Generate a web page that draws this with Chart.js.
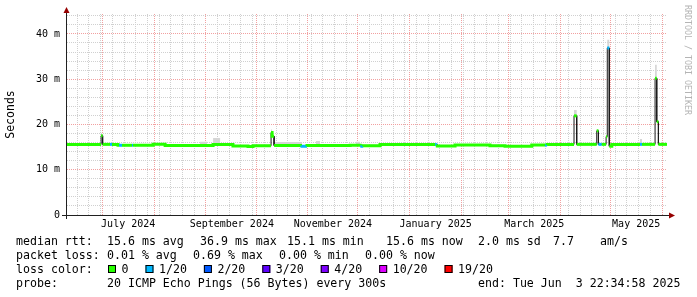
<!DOCTYPE html>
<html>
<head>
<meta charset="utf-8">
<title>smokeping median rtt</title>
<script src="https://cdn.jsdelivr.net/npm/chart.js@4.4.1/dist/chart.umd.min.js"></script>
<style>
  html, body { margin: 0; padding: 0; background: #fff; }
  canvas { display: block; }
</style>
</head>
<body>
<canvas id="smokeChart" width="697" height="297"></canvas>
<script>
// x values are days counted from 1 July 2024 (local time)
var startDay = -21.12;
var endDay = 337.94;   // Tue Jun 3 22:34:58 2025

// each step: start day, median rtt (ms), loss bucket, top of the smoke (ms)
var stepDay = [-21.12, -0.7, 0.2, 4.6, 5.8, 9.4, 10.0, 11.8, 17.8, 18.4,
  30.4, 37.6, 58.5, 62.7, 66.3, 70.5, 78.2, 87.2, 90.2, 101.0,
  101.6, 102.8, 119.5, 122.5, 127.9, 130.3, 148.3, 151.8, 154.2, 155.3,
  156.2, 166.2, 199.1, 200.5, 211.1, 232.0, 241.0, 257.0, 265.0, 266.2,
  282.3, 283.9, 295.9, 296.9, 298.9, 301.5, 302.2, 303.4, 304.9, 321.8,
  323.0, 330.8, 331.8, 332.8];
var medianMs = [15.6, 17.5, 15.6, 15.6, 15.6, 15.4, 15.4, 15.4, 15.4, 15.4,
  15.65, 15.35, 15.35, 15.35, 15.55, 15.55, 15.25, 15.15, 15.3, 18.2,
  17.4, 15.35, 15.2, 15.35, 15.35, 15.35, 15.4, 15.4, 15.4, 15.2,
  15.3, 15.55, 15.55, 15.25, 15.45, 15.3, 15.2, 15.45, 15.45, 15.6,
  21.9, 15.6, 18.6, 15.6, 15.6, 17.3, 36.9, 15.2, 15.6, 15.6,
  15.6, 30.2, 20.6, 15.6];
var lossIdx = [0, 0, 0, 1, 0, 0, 1, 0, 1, 0,
  0, 0, 0, 0, 0, 0, 0, 0, 0, 0,
  0, 0, 1, 0, 0, 0, 0, 0, 0, 1,
  0, 0, 1, 0, 0, 0, 0, 0, 1, 0,
  0, 0, 0, 1, 0, 0, 1, 0, 0, 1,
  0, 0, 0, 0];
var smokeMs = [15.8, 17.9, 15.8, 15.8, 15.8, 15.6, 15.6, 15.6, 15.6, 15.6,
  15.85, 15.55, 16.2, 15.55, 17.0, 15.75, 15.45, 15.35, 15.5, 18.9,
  17.6, 16.1, 15.4, 15.55, 16.35, 15.55, 15.6, 16.2, 15.6, 15.4,
  15.5, 15.75, 15.75, 15.45, 15.65, 15.5, 15.4, 15.65, 15.65, 15.8,
  23.2, 15.8, 18.9, 15.8, 15.8, 17.5, 38.7, 15.4, 15.8, 16.8,
  15.8, 33.2, 20.8, 15.8];

var lossLabels = ['0', '1/20', '2/20', '3/20', '4/20', '10/20', '19/20'];
var lossColors = ['#26ff00', '#00b8ff', '#0059ff', '#5e00ff', '#7e00ff', '#dd00ff', '#ff0000'];

var monthStarts = [0, 31, 62, 92, 123, 153, 184, 215, 243, 274, 304, 335];
var labelDays = [15.5, 77.5, 138, 199.5, 258.5, 319.5];
var monthLabels = ['July 2024', 'September 2024', 'November 2024', 'January 2025', 'March 2025', 'May 2025'];
var firstSunday = -15;  // 16 June 2024

var yMax = 44.4;
var rttNames = ['avg', 'max', 'min', 'now'];
var rttValues = [15.6, 36.9, 15.1, 15.6];
var rttSd = 2.0;
var amPerS = 7.7;
var lossValues = [0.01, 0.69, 0.00, 0.00];
var probeText = '20 ICMP Echo Pings (56 Bytes) every 300s';
var endText = 'end: Tue Jun  3 22:34:58 2025';

var minorGrid = '#d0d0d0';
var majorGrid = '#f2a0a0';
var mono = '"DejaVu Sans Mono", monospace';

function stepPoints(values) {
  var pts = [];
  for (var i = 0; i < stepDay.length; i++) {
    var next = i + 1 < stepDay.length ? stepDay[i + 1] : endDay;
    pts.push({x: stepDay[i], y: values[i]}, {x: next, y: values[i]});
  }
  return pts;
}

// weekly minor grid, month grid and the label positions share one axis
var xTicks = [];
for (var d = firstSunday; d < endDay; d += 7) {
  if (monthStarts.indexOf(d) < 0) xTicks.push(d);
}
xTicks = xTicks.concat(monthStarts, labelDays).sort(function (a, b) { return a - b; });

var yTicks = [];
for (var v = 0; v <= 44; v += 2) yTicks.push(v);

var decor = {
  id: 'decor',
  afterDraw: function (chart) {
    var ctx = chart.ctx, a = chart.chartArea;
    ctx.save();

    // axes with arrows
    ctx.strokeStyle = '#202020';
    ctx.lineWidth = 1;
    ctx.beginPath();
    ctx.moveTo(a.left - 0.5, a.top - 1);
    ctx.lineTo(a.left - 0.5, a.bottom + 4);
    ctx.moveTo(a.left - 5, a.bottom + 0.5);
    ctx.lineTo(a.right + 2, a.bottom + 0.5);
    ctx.stroke();
    ctx.fillStyle = '#960000';
    ctx.beginPath();
    ctx.moveTo(a.left - 0.5, a.top - 7);
    ctx.lineTo(a.left - 3.5, a.top - 1);
    ctx.lineTo(a.left + 2.5, a.top - 1);
    ctx.closePath();
    ctx.fill();
    ctx.beginPath();
    ctx.moveTo(a.right + 8, a.bottom + 0.5);
    ctx.lineTo(a.right + 2, a.bottom - 2.5);
    ctx.lineTo(a.right + 2, a.bottom + 3.5);
    ctx.closePath();
    ctx.fill();

    // watermark
    ctx.save();
    ctx.translate(687, 5);
    ctx.rotate(Math.PI / 2);
    ctx.font = '8.3px ' + mono;
    ctx.fillStyle = '#b4b4b4';
    ctx.textBaseline = 'middle';
    ctx.textAlign = 'left';
    ctx.fillText('RRDTOOL / TOBI OETIKER', 0, 0);
    ctx.restore();

    // legend rows
    ctx.font = '11.6px ' + mono;
    ctx.fillStyle = '#000';
    ctx.textBaseline = 'alphabetic';
    ctx.textAlign = 'left';
    var row1 = [16, 107, 200, 287, 386, 478, 553, 600];
    var y1 = 245;
    ctx.fillText('median rtt:', row1[0], y1);
    for (var i = 0; i < rttValues.length; i++) {
      ctx.fillText(rttValues[i].toFixed(1) + ' ms ' + rttNames[i], row1[i + 1], y1);
    }
    ctx.fillText(rttSd.toFixed(1) + ' ms sd', row1[5], y1);
    ctx.fillText(amPerS.toFixed(1), row1[6], y1);
    ctx.fillText('am/s', row1[7], y1);

    var row2 = [16, 107, 193, 279, 365];
    ctx.fillText('packet loss:', row2[0], 259);
    for (i = 0; i < lossValues.length; i++) {
      ctx.fillText(lossValues[i].toFixed(2) + ' % ' + rttNames[i], row2[i + 1], 259);
    }

    ctx.fillText('loss color:', 16, 273);
    var x = 108;
    for (i = 0; i < lossLabels.length; i++) {
      ctx.fillStyle = lossColors[i];
      ctx.fillRect(x, 265, 8, 8);
      ctx.strokeStyle = '#000';
      ctx.strokeRect(x + 0.5, 265.5, 7, 7);
      ctx.fillStyle = '#000';
      ctx.fillText(lossLabels[i], x + 13.5, 273);
      x = x + 13.5 + ctx.measureText(lossLabels[i]).width + 17;
    }

    ctx.fillText('probe:', 16, 287);
    ctx.fillText(probeText, 107, 287);
    ctx.fillText(endText, 478, 287);
    ctx.restore();
  }
};

var ctx = document.getElementById('smokeChart').getContext('2d');
var smokeChart = new Chart(ctx, {
  type: 'line',
  data: {
    datasets: [{
      label: 'smoke',
      data: stepPoints(smokeMs),
      borderWidth: 0,
      pointRadius: 0,
      backgroundColor: '#d6d6d6',
      fill: 1,
      order: 3
    }, {
      label: 'median',
      data: stepPoints(medianMs),
      borderColor: '#1a1a1a',
      borderWidth: 1,
      pointRadius: 0,
      fill: false,
      order: 2
    }, {
      label: 'median loss',
      data: stepPoints(medianMs),
      borderWidth: 3,
      pointRadius: 0,
      fill: false,
      order: 1,
      segment: {
        borderColor: function (c) {
          var i = Math.floor(c.p0DataIndex / 2);
          if (c.p0DataIndex % 2 === 1) {
            // vertical step: keep it green only for small changes
            var jump = Math.abs(medianMs[i + 1] - medianMs[i]);
            return jump > 1 ? 'rgba(0,0,0,0)' : lossColors[lossIdx[i + 1]];
          }
          return lossColors[lossIdx[i]];
        }
      }
    }]
  },
  options: {
    responsive: false,
    animation: false,
    events: [],
    devicePixelRatio: 1,
    layout: { padding: { left: 0, right: 30, top: 14, bottom: 62 } },
    plugins: {
      legend: { display: false },
      tooltip: { enabled: false }
    },
    scales: {
      x: {
        type: 'linear',
        bounds: 'data',
        min: startDay,
        max: endDay,
        afterBuildTicks: function (s) {
          s.ticks = xTicks.map(function (t) { return {value: t}; });
        },
        afterFit: function (s) { s.height = 20; },
        grid: {
          drawTicks: false,
          lineWidth: 1,
          color: function (c) {
            var t = c.tick ? c.tick.value : null;
            if (labelDays.indexOf(t) >= 0) return 'rgba(0,0,0,0)';
            if (monthStarts.indexOf(t) >= 0) return majorGrid;
            return minorGrid;
          }
        },
        border: { display: false, dash: [1, 1] },
        ticks: {
          autoSkip: false,
          maxRotation: 0,
          minRotation: 0,
          padding: 3,
          color: '#000',
          font: { family: mono, size: 10 },
          callback: function (val) {
            var k = labelDays.indexOf(val);
            return k >= 0 ? monthLabels[k] : '';
          }
        }
      },
      y: {
        type: 'linear',
        bounds: 'data',
        min: 0,
        max: yMax,
        afterBuildTicks: function (s) {
          s.ticks = yTicks.map(function (t) { return {value: t}; });
        },
        afterFit: function (s) { s.width = 67; },
        grid: {
          drawTicks: false,
          lineWidth: 1,
          color: function (c) {
            var t = c.tick ? c.tick.value : 0;
            return t % 10 === 0 ? majorGrid : minorGrid;
          }
        },
        border: { display: false, dash: [1, 1] },
        ticks: {
          autoSkip: false,
          padding: 7,
          color: '#000',
          font: { family: mono, size: 10 },
          callback: function (val) {
            if (val % 10 !== 0) return '';
            return val === 0 ? '0' : val + ' m';
          }
        },
        title: {
          display: true,
          text: 'Seconds',
          color: '#000',
          font: { family: mono, size: 11.5 },
          padding: { top: 4, bottom: 0 }
        }
      }
    }
  },
  plugins: [decor]
});
</script>
</body>
</html>
